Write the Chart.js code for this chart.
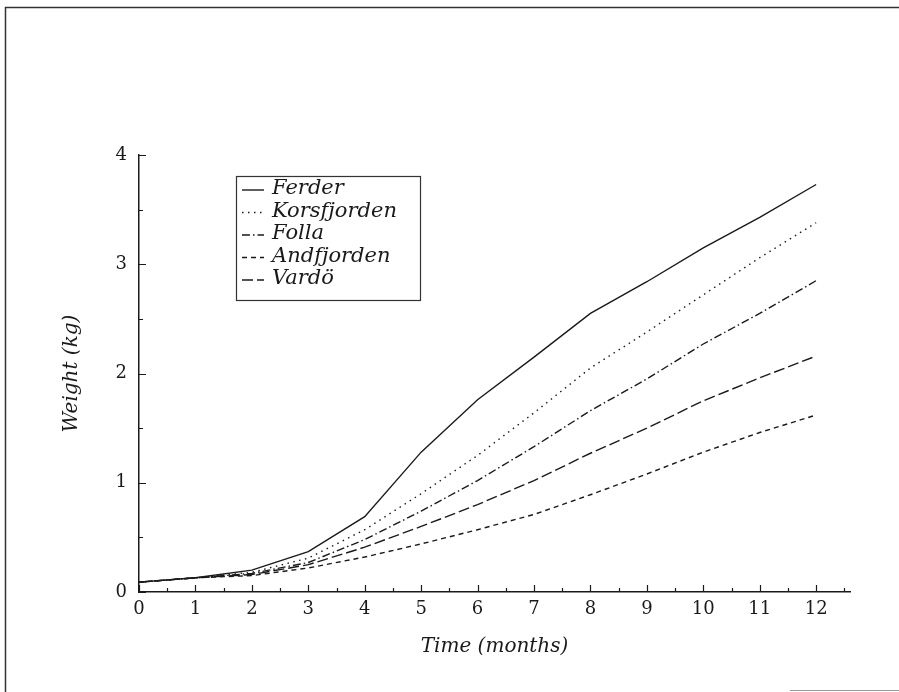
<!DOCTYPE html>
<html lang="en">
<head>
<meta charset="UTF-8" />
<title>Weight over time</title>
<script src="https://cdn.jsdelivr.net/npm/chart.js"></script>
<style>
  html, body { margin: 0; padding: 0; background: #fff; }
  #chart { display: block; }
</style>
</head>
<body>
<canvas id="chart" width="899" height="692"></canvas>
<script>
// months 0..12
const months = [0, 1, 2, 3, 4, 5, 6, 7, 8, 9, 10, 11, 12];

// weight (kg)
const ferder      = [0.09, 0.13, 0.20, 0.37, 0.69, 1.28, 1.76, 2.15, 2.55, 2.84, 3.15, 3.43, 3.73];
const korsfjorden = [0.09, 0.13, 0.18, 0.31, 0.57, 0.90, 1.25, 1.64, 2.05, 2.38, 2.72, 3.06, 3.38];
const folla       = [0.09, 0.13, 0.17, 0.27, 0.48, 0.74, 1.02, 1.33, 1.66, 1.95, 2.27, 2.55, 2.85];
const andfjorden  = [0.09, 0.13, 0.15, 0.22, 0.32, 0.44, 0.57, 0.71, 0.89, 1.08, 1.28, 1.46, 1.62];
const vardo       = [0.09, 0.13, 0.16, 0.25, 0.41, 0.60, 0.80, 1.02, 1.27, 1.50, 1.75, 1.96, 2.16];

const seriesNames = ['Ferder', 'Korsfjorden', 'Folla', 'Andfjorden', 'Vardö'];
const seriesData = [ferder, korsfjorden, folla, andfjorden, vardo];
const seriesDash = [[], [1.5, 4.5], [8, 3, 1.5, 3], [5, 4], [11, 4]];

const xTicks = [0, 1, 2, 3, 4, 5, 6, 7, 8, 9, 10, 11, 12];
const yTicks = [0, 1, 2, 3, 4];

const INK = '#1a1a1a';
const SERIF = '"DejaVu Serif", "Liberation Serif", serif';

// scanned page frame
const framePlugin = {
  id: 'frame',
  beforeDraw(chart) {
    const ctx = chart.ctx;
    ctx.save();
    ctx.fillStyle = '#fff';
    ctx.fillRect(0, 0, chart.width, chart.height);
    ctx.strokeStyle = '#333';
    ctx.lineWidth = 1.5;
    ctx.beginPath();
    ctx.moveTo(5, 7.5); ctx.lineTo(chart.width, 7.5);
    ctx.moveTo(5.5, 7); ctx.lineTo(5.5, chart.height);
    ctx.stroke();
    ctx.strokeStyle = '#999';
    ctx.lineWidth = 1;
    ctx.beginPath();
    ctx.moveTo(790, 690.5); ctx.lineTo(chart.width, 690.5);
    ctx.stroke();
    ctx.restore();
  }
};

// inward tick marks, major + half-unit minor
const ticksPlugin = {
  id: 'inTicks',
  afterDraw(chart) {
    const ctx = chart.ctx;
    const xs = chart.scales.x, ys = chart.scales.y;
    const { left, bottom } = chart.chartArea;
    ctx.save();
    ctx.strokeStyle = INK;
    ctx.lineWidth = 1.2;
    ctx.beginPath();
    for (let v = 0; v <= 12.5; v += 0.5) {
      const px = Math.round(xs.getPixelForValue(v)) + 0.5;
      const len = v % 1 === 0 ? 7 : 4;
      ctx.moveTo(px, bottom); ctx.lineTo(px, bottom - len);
    }
    for (let v = 0; v <= 4; v += 0.5) {
      const py = Math.round(ys.getPixelForValue(v)) + 0.5;
      const len = v % 1 === 0 ? 7 : 4;
      ctx.moveTo(left, py); ctx.lineTo(left + len, py);
    }
    ctx.stroke();
    ctx.restore();
  }
};

// boxed legend inside the plot
const legendPlugin = {
  id: 'boxLegend',
  afterDraw(chart) {
    const ctx = chart.ctx;
    const { left, top } = chart.chartArea;
    const bx = left + 97, by = top + 21, bw = 184, bh = 124;
    const rowH = 22.5;
    ctx.save();
    ctx.strokeStyle = '#333';
    ctx.lineWidth = 1.2;
    ctx.strokeRect(bx + 0.5, by + 0.5, bw, bh);
    ctx.font = 'italic 21px ' + SERIF;
    ctx.fillStyle = INK;
    ctx.textBaseline = 'middle';
    chart.data.datasets.forEach((ds, i) => {
      const cy = by + 13 + i * rowH;
      ctx.beginPath();
      ctx.setLineDash(ds.borderDash || []);
      ctx.lineWidth = 1.4;
      ctx.strokeStyle = INK;
      ctx.moveTo(bx + 6, cy + 1); ctx.lineTo(bx + 28, cy + 1);
      ctx.stroke();
      ctx.setLineDash([]);
      ctx.fillText(ds.label, bx + 36, cy);
    });
    ctx.restore();
  }
};

new Chart(document.getElementById('chart'), {
  type: 'line',
  data: {
    datasets: seriesNames.map((name, i) => ({
      label: name,
      data: months.map((m, j) => ({ x: m, y: seriesData[i][j] })),
      borderColor: INK,
      borderWidth: 1.4,
      borderDash: seriesDash[i],
      pointRadius: 0,
      tension: 0,
      fill: false
    }))
  },
  options: {
    responsive: false,
    animation: false,
    devicePixelRatio: 1,
    layout: { padding: { left: 0, top: 155, right: 49, bottom: 0 } },
    plugins: { legend: { display: false }, tooltip: { enabled: false } },
    scales: {
      x: {
        type: 'linear',
        min: 0,
        max: 12.6,
        afterFit: s => { s.height = 100; },
        afterBuildTicks: s => { s.ticks = xTicks.map(v => ({ value: v })); },
        grid: { display: false, drawTicks: false, tickLength: 0 },
        border: { display: true, color: INK, width: 1.5 },
        ticks: { color: INK, font: { family: SERIF, size: 18 }, padding: 7, maxRotation: 0 },
        title: {
          display: true,
          text: 'Time (months)',
          color: INK,
          font: { family: SERIF, size: 20, style: 'italic' },
          padding: { top: 0, bottom: 33 }
        }
      },
      y: {
        type: 'linear',
        min: 0,
        max: 4,
        afterFit: s => { s.width = 139; },
        afterBuildTicks: s => { s.ticks = yTicks.map(v => ({ value: v })); },
        grid: { display: false, drawTicks: false, tickLength: 0 },
        border: { display: true, color: INK, width: 1.5 },
        ticks: { color: INK, font: { family: SERIF, size: 18 }, padding: 12 },
        title: {
          display: true,
          text: 'Weight (kg)',
          color: INK,
          font: { family: SERIF, size: 20, style: 'italic' },
          padding: { top: 60, bottom: 0 }
        }
      }
    }
  },
  plugins: [framePlugin, ticksPlugin, legendPlugin]
});
</script>
</body>
</html>
